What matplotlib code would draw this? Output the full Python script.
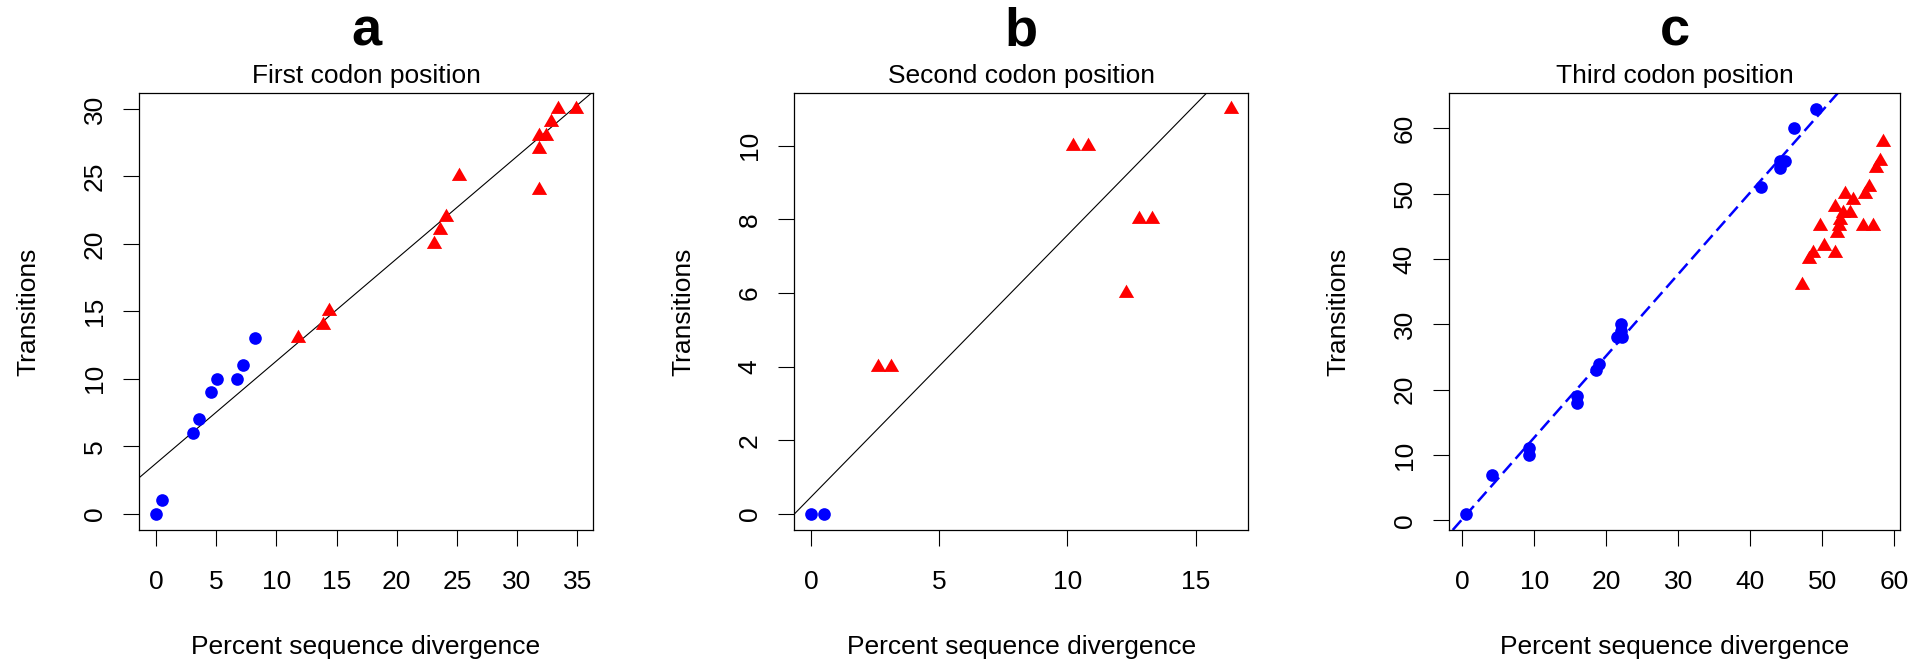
import numpy as np
import matplotlib
matplotlib.use('Agg')
import matplotlib.pyplot as plt

plt.rcParams['font.family'] = ['Liberation Sans', 'DejaVu Sans']

# panel a : first codon position
a_blue_x = [0.0, 0.5, 3.1, 3.6, 4.6, 5.1, 6.7, 7.2, 8.2]
a_blue_y = [0, 1, 6, 7, 9, 10, 10, 11, 13]
a_red_x = [11.8, 13.9, 14.4, 23.1, 23.6, 24.1, 25.2, 31.8, 31.8, 31.8, 32.4, 32.8, 33.4, 34.9]
a_red_y = [13, 14, 15, 20, 21, 22, 25, 24, 27, 28, 28, 29, 30, 30]
a_fit = (3.74, 0.758)   # intercept, slope

# panel b : second codon position
b_blue_x = [0.0, 0.5]
b_blue_y = [0, 0]
b_red_x = [2.6, 3.1, 10.2, 10.8, 12.3, 12.8, 13.3, 16.4]
b_red_y = [4, 4, 10, 10, 6, 8, 8, 11]
b_fit = (0.46, 0.711)

# panel c : third codon position
c_blue_x = [0.5, 4.1, 9.2, 9.2, 15.9, 15.9, 18.5, 19.0, 21.5, 22.2, 22.1, 22.1,
            41.5, 44.1, 44.1, 44.8, 46.1, 49.2]
c_blue_y = [1, 7, 10, 11, 18, 19, 23, 24, 28, 28, 29, 30, 51, 54, 55, 55, 60, 63]
c_red_x = [47.2, 48.2, 48.7, 49.7, 50.2, 51.8, 51.8, 52.0, 52.3, 52.5, 52.9, 53.2,
           53.9, 54.3, 55.7, 55.9, 56.5, 57.0, 57.5, 58.0, 58.5]
c_red_y = [36, 40, 41, 45, 42, 41, 48, 44, 45, 46, 47, 50, 47, 49, 45, 50, 51, 45,
           54, 55, 58]
c_fit = (0.2, 1.25)

letters = ['a', 'b', 'c']
subtitles = ['First codon position', 'Second codon position', 'Third codon position']
xticks = [np.arange(0, 36, 5), np.arange(0, 16, 5), np.arange(0, 61, 10)]
yticks = [np.arange(0, 31, 5), np.arange(0, 11, 2), np.arange(0, 61, 10)]

# R style triangle (pch 17)
tri = [(0, 1), (-0.866, -0.5), (0.866, -0.5)]

fig = plt.figure(figsize=(19.26, 6.61), dpi=100)
lefts = [139.3, 794.3, 1449.3]
widths = [453.4, 454.0, 450.7]
W, H = 1926., 661.
bottom = (H - 530.) / H
height = 437.3 / H

panels = [(a_blue_x, a_blue_y, a_red_x, a_red_y, a_fit),
          (b_blue_x, b_blue_y, b_red_x, b_red_y, b_fit),
          (c_blue_x, c_blue_y, c_red_x, c_red_y, c_fit)]

fs = 19
for i, (bx, by, rx, ry, fit) in enumerate(panels):
    ax = fig.add_axes([lefts[i] / W, bottom, widths[i] / W, height])
    ax.plot(bx, by, 'o', color='#0000ff', ms=9.1, mew=0, zorder=3)
    ax.plot(rx, ry, linestyle='none', marker=tri, color='#ff0000', ms=12.7, mew=0, zorder=3)
    if i < 2:
        ax.axline((0, fit[0]), slope=fit[1], color='black', lw=0.8)
    else:
        ax.axline((0, fit[0]), slope=fit[1], color='#0000ff', lw=1.8,
                  dashes=(5.2, 2.4))

    # R default 4% padding
    allx = np.array(bx + rx)
    ally = np.array(by + ry)
    dx = 0.04 * (allx.max() - allx.min())
    dy = 0.04 * (ally.max() - ally.min())
    ax.set_xlim(allx.min() - dx, allx.max() + dx)
    ax.set_ylim(ally.min() - dy, ally.max() + dy)

    ax.set_xticks(xticks[i])
    ax.set_yticks(yticks[i])
    ax.tick_params(direction='out', length=11.5, width=0.8, labelsize=fs)
    ax.tick_params(axis='x', pad=17)
    ax.tick_params(axis='y', pad=12)
    plt.setp(ax.get_yticklabels(), rotation=90, va='center')
    for sp in ax.spines.values():
        sp.set_linewidth(0.9)

    ax.set_xlabel('Percent sequence divergence', fontsize=fs)
    ax.xaxis.label.set_verticalalignment('baseline')
    ax.xaxis.set_label_coords(0.5, -124. / 437.3)
    ax.set_ylabel('Transitions', fontsize=fs)
    ax.yaxis.label.set_verticalalignment('baseline')
    ax.yaxis.set_label_coords(-104. / widths[i], 0.5)

    ax.text(0.5, 1 + 9.4 / 437.3, subtitles[i], transform=ax.transAxes,
            ha='center', va='baseline', fontsize=fs)
    ax.text(0.5, 1 + 47. / 437.3, letters[i], transform=ax.transAxes,
            ha='center', va='baseline', fontsize=39, fontweight='bold')

fig.savefig('out.png', dpi=100)
